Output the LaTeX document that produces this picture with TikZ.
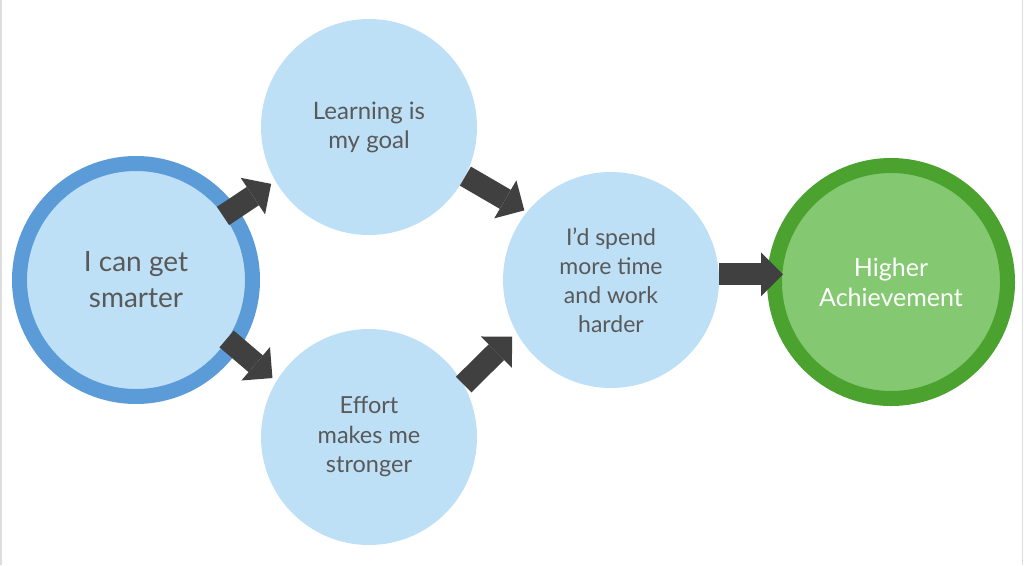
\documentclass[tikz,border=0pt]{standalone}
\usepackage{fontspec}
\setmainfont{Lato}
\usetikzlibrary{arrows.meta}
\definecolor{lightblue}{HTML}{BEE0F6}
\definecolor{ringblue}{HTML}{5B9BD8}
\definecolor{ringgreen}{HTML}{4BA22F}
\definecolor{fillgreen}{HTML}{84C972}
\definecolor{textgray}{HTML}{595959}
\definecolor{arrowgray}{HTML}{404040}
\definecolor{framegray}{HTML}{DDDDDD}
\begin{document}
\begin{tikzpicture}[x=1pt,y=-1pt,
  bubble/.style={circle, fill=lightblue, minimum size=216pt, inner sep=0pt,
    align=center, text=textgray, font=\fontsize{23}{29}\selectfont},
  ringed/.style={draw=ringblue, line width=15pt, minimum size=233pt},
  flow/.style={draw=arrowgray, line width=22pt,
    -{Triangle[length=22pt,width=44pt,line width=0pt]}},
  frameline/.style={draw=framegray, line width=1.5pt}
]
\useasboundingbox (0,0) rectangle (1024,565);
\coordinate (fl1) at (1,0);
\coordinate (fl2) at (1,565);
\coordinate (fr1) at (1022.5,0);
\coordinate (fr2) at (1022.5,565);
\draw[frameline] (fl1) -- (fl2);
\draw[frameline] (fr1) -- (fr2);

\node[bubble, ringed, font=\fontsize{28}{36}\selectfont] (L) at (136,280) {I can get\\smarter};
\node[bubble, font=\fontsize{24}{29}\selectfont] (T) at (369,127) {Learning is\\my goal};
\node[bubble, font=\fontsize{23.5}{29.5}\selectfont] (B) at (369,437) {Effort\\makes me\\stronger};
\node[bubble] (M) at (611,280) {I’d spend\\more time\\and work\\harder};
\node[bubble, ringed, draw=ringgreen, fill=fillgreen, text=white, font=\fontsize{25}{30}\selectfont] (G) at (891,282) {Higher\\Achievement};

\draw[flow, shorten <=-16pt, shorten >=5pt] (L.36) -- (T.210);
\draw[flow, shorten <=-16pt, shorten >=5pt] (L.-34) -- (B.149);
\draw[flow, shorten >=3pt] (T.-27) -- (M.141);
\draw[flow, shorten >=6pt] (B.29) -- (M.209);
\draw[flow, shorten >=-16pt] (M.3) -- (M.3 -| G.west);
\end{tikzpicture}
\end{document}
